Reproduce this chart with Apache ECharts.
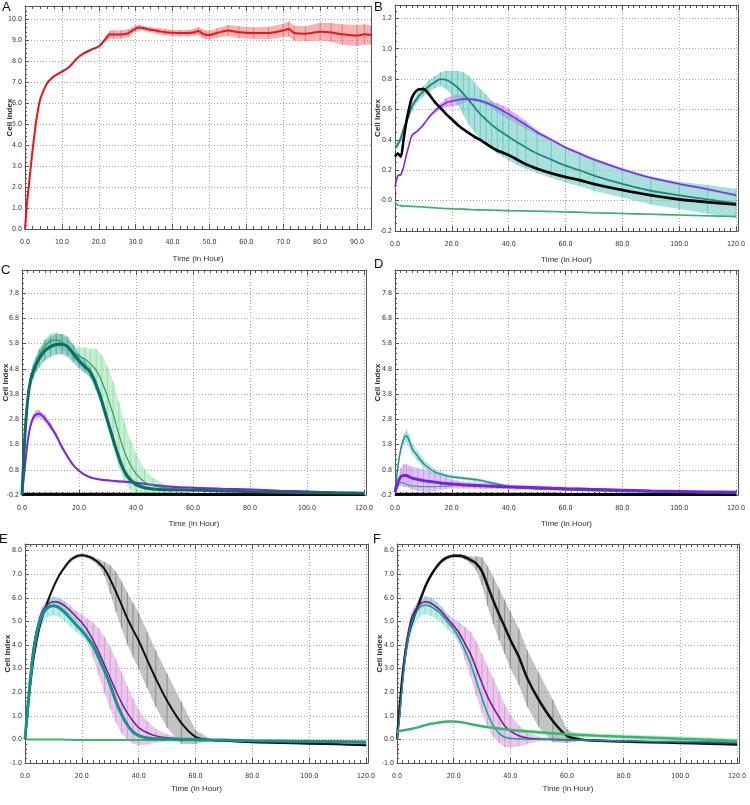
<!DOCTYPE html>
<html>
<head>
<meta charset="utf-8">
<script src="https://cdn.jsdelivr.net/npm/echarts/dist/echarts.min.js"></script>
<style>html,body{margin:0;padding:0;background:#fff}#c{width:750px;height:805px}</style>
</head>
<body>
<div id="c"></div>
<script>
// ---------- tick labels ----------
const xTicksA = [0,10,20,30,40,50,60,70,80,90];
const xLabelsA = ['0.0','10.0','20.0','30.0','40.0','50.0','60.0','70.0','80.0','90.0'];
const xTicks120 = [0,20,40,60,80,100,120];
const xLabels120 = ['0.0','20.0','40.0','60.0','80.0','100.0','120.0'];
const yTicksA = [0,1,2,3,4,5,6,7,8,9,10];
const yLabelsA = ['0.0','1.0','2.0','3.0','4.0','5.0','6.0','7.0','8.0','9.0','10.0'];
const yTicksB = [-0.2,0,0.2,0.4,0.6,0.8,1.0,1.2];
const yLabelsB = ['-0.2','-0.0','0.2','0.4','0.6','0.8','1.0','1.2'];
const yTicksCD = [-0.2,0.8,1.8,2.8,3.8,4.8,5.8,6.8,7.8];
const yLabelsCD = ['-0.2','0.8','1.8','2.8','3.8','4.8','5.8','6.8','7.8'];
const yTicksEF = [-1,0,1,2,3,4,5,6,7,8];
const yLabelsEF = ['-1.0','0.0','1.0','2.0','3.0','4.0','5.0','6.0','7.0','8.0'];

// ---------- panel A ----------
const A_t = [0,0.5,1,1.5,2,2.5,3,4,5,6,7,8,10,12,14,16,18,20,21,22,23,24,26,28,30,31,32,34,36,38,40,42,44,46,47,48,49,50,52,55,58,62,66,70,71.5,73,76,80,83,86,90,92,93.8];
const A_red = [0,1.15,2.0,2.85,3.7,4.4,5.1,6.1,6.6,6.95,7.15,7.3,7.5,7.72,8.12,8.38,8.55,8.7,8.88,9.1,9.28,9.27,9.27,9.34,9.55,9.6,9.58,9.5,9.44,9.38,9.35,9.34,9.34,9.38,9.44,9.33,9.26,9.25,9.34,9.46,9.38,9.34,9.34,9.46,9.53,9.34,9.31,9.4,9.37,9.28,9.22,9.28,9.25];
const A_red_sd = [0.03,0.03,0.03,0.03,0.03,0.03,0.03,0.04,0.04,0.04,0.04,0.04,0.05,0.05,0.05,0.05,0.05,0.05,0.08,0.12,0.18,0.2,0.2,0.18,0.15,0.12,0.1,0.12,0.14,0.15,0.15,0.15,0.15,0.16,0.18,0.2,0.2,0.2,0.22,0.26,0.28,0.28,0.3,0.32,0.36,0.35,0.35,0.42,0.45,0.48,0.5,0.48,0.45];

// ---------- shared time points for panels B-F ----------
const T = [0,1,2,3,4,5,6,8,10,12,14,16,18,20,22,24,26,28,30,32,34,36,38,40,43,46,50,55,60,65,70,80,90,100,110,120];

// ---------- panel B ----------
const B_black = [0.29,0.31,0.29,0.40,0.52,0.61,0.68,0.73,0.735,0.70,0.65,0.61,0.57,0.535,0.50,0.47,0.445,0.42,0.40,0.375,0.35,0.33,0.315,0.30,0.27,0.24,0.21,0.18,0.155,0.135,0.11,0.07,0.035,0.008,-0.01,-0.026];
const B_black_sd = [0.01,0.01,0.01,0.01,0.01,0.01,0.01,0.01,0.01,0.01,0.01,0.01,0.01,0.01,0.01,0.01,0.01,0.01,0.01,0.01,0.01,0.01,0.01,0.01,0.01,0.01,0.01,0.01,0.01,0.01,0.01,0.01,0.01,0.01,0.01,0.01];
const B_teal = [0.35,0.37,0.41,0.47,0.52,0.57,0.62,0.68,0.72,0.755,0.78,0.80,0.795,0.775,0.745,0.705,0.66,0.615,0.57,0.535,0.50,0.47,0.445,0.42,0.385,0.35,0.31,0.27,0.23,0.20,0.165,0.11,0.065,0.035,0.008,-0.017];
const B_teal_sd = [0.02,0.02,0.02,0.02,0.02,0.025,0.03,0.03,0.035,0.04,0.04,0.045,0.06,0.08,0.11,0.14,0.16,0.165,0.165,0.165,0.16,0.16,0.155,0.155,0.15,0.14,0.13,0.12,0.11,0.105,0.10,0.09,0.09,0.09,0.095,0.095];
const B_purple = [0.09,0.165,0.17,0.22,0.30,0.37,0.43,0.46,0.50,0.55,0.59,0.62,0.645,0.655,0.663,0.668,0.668,0.665,0.657,0.645,0.63,0.612,0.59,0.57,0.535,0.50,0.45,0.40,0.35,0.31,0.27,0.205,0.15,0.11,0.075,0.035];
const B_purple_sd = [0.008,0.008,0.008,0.008,0.008,0.008,0.008,0.008,0.01,0.01,0.015,0.02,0.03,0.035,0.035,0.025,0.012,0.01,0.012,0.015,0.02,0.03,0.035,0.035,0.03,0.025,0.015,0.01,0.01,0.01,0.01,0.01,0.01,0.01,0.01,0.01];
const B_green = [-0.01,-0.03,-0.033,-0.035,-0.036,-0.037,-0.038,-0.04,-0.042,-0.045,-0.047,-0.05,-0.052,-0.054,-0.055,-0.056,-0.058,-0.06,-0.061,-0.062,-0.063,-0.064,-0.065,-0.066,-0.067,-0.068,-0.07,-0.072,-0.075,-0.077,-0.08,-0.085,-0.09,-0.095,-0.1,-0.105];
const B_green_sd = [0.005,0.005,0.005,0.005,0.005,0.005,0.005,0.005,0.005,0.005,0.005,0.005,0.005,0.005,0.005,0.005,0.005,0.005,0.005,0.005,0.005,0.005,0.005,0.005,0.005,0.005,0.005,0.005,0.005,0.005,0.005,0.005,0.005,0.005,0.005,0.005];

// ---------- panel C ----------
const C_teal = [-0.2,2.1,3.58,4.35,4.7,4.98,5.2,5.52,5.68,5.77,5.78,5.68,5.4,5.12,4.9,4.67,4.17,3.52,2.75,2.0,1.28,0.72,0.4,0.22,0.09,0.04,0.01,0.0,-0.01,-0.02,-0.04,-0.07,-0.09,-0.11,-0.12,-0.13];
const C_teal_sd = [0.05,0.15,0.2,0.25,0.3,0.3,0.35,0.4,0.4,0.4,0.4,0.4,0.35,0.3,0.25,0.2,0.2,0.2,0.2,0.2,0.2,0.15,0.12,0.1,0.06,0.03,0.03,0.02,0.02,0.02,0.02,0.02,0.02,0.02,0.02,0.02];
const C_green = [-0.2,2.2,3.7,4.45,4.85,5.1,5.35,5.7,5.9,5.95,5.85,5.7,5.47,5.3,5.2,5.0,4.75,4.3,3.7,3.0,2.2,1.5,1.0,0.65,0.32,0.17,0.09,0.03,0.0,-0.02,-0.04,-0.07,-0.09,-0.11,-0.12,-0.13];
const C_green_sd = [0.05,0.1,0.15,0.2,0.2,0.22,0.25,0.28,0.3,0.3,0.3,0.3,0.3,0.35,0.45,0.6,0.85,1.05,1.2,1.3,1.3,1.2,1.0,0.8,0.5,0.3,0.15,0.06,0.03,0.02,0.02,0.02,0.02,0.02,0.02,0.02];
const C_purple = [-0.2,0.9,1.93,2.55,2.88,3.0,3.02,2.84,2.53,2.16,1.7,1.32,0.98,0.76,0.6,0.5,0.44,0.4,0.38,0.36,0.34,0.33,0.31,0.29,0.24,0.2,0.15,0.11,0.09,0.07,0.05,0.02,-0.03,-0.06,-0.1,-0.12];
const C_purple_sd = [0.05,0.1,0.1,0.1,0.12,0.15,0.15,0.15,0.12,0.1,0.08,0.06,0.04,0.04,0.04,0.04,0.04,0.04,0.04,0.04,0.04,0.04,0.04,0.04,0.04,0.04,0.04,0.04,0.04,0.04,0.04,0.04,0.04,0.04,0.03,0.03];
const C_black = [-0.17,-0.17,-0.17,-0.17,-0.17,-0.17,-0.17,-0.17,-0.17,-0.17,-0.17,-0.17,-0.17,-0.17,-0.17,-0.17,-0.17,-0.17,-0.17,-0.17,-0.17,-0.17,-0.17,-0.17,-0.17,-0.17,-0.17,-0.17,-0.18,-0.18,-0.18,-0.18,-0.18,-0.18,-0.18,-0.18];

// ---------- panel D ----------
const D_teal = [0.0,0.9,1.6,2.0,2.15,1.95,1.65,1.33,1.05,0.86,0.72,0.63,0.56,0.52,0.49,0.46,0.44,0.41,0.38,0.33,0.28,0.24,0.19,0.14,0.11,0.08,0.05,0.03,0.01,-0.01,-0.03,-0.06,-0.08,-0.1,-0.11,-0.12];
const D_teal_sd = [0.05,0.1,0.15,0.2,0.25,0.25,0.22,0.2,0.18,0.15,0.12,0.1,0.09,0.07,0.07,0.07,0.07,0.07,0.06,0.06,0.06,0.05,0.05,0.05,0.05,0.04,0.04,0.04,0.04,0.04,0.04,0.04,0.04,0.04,0.04,0.04];
const D_t2 = [0,1,2,3,4,5,6,8,10,12,14,16,18,20];
const D_teal2 = [-0.1,0.15,0.3,0.28,0.22,0.18,0.16,0.14,0.13,0.13,0.13,0.14,0.15,0.16];
const D_purple = [-0.1,0.3,0.52,0.57,0.57,0.52,0.47,0.42,0.37,0.34,0.31,0.28,0.26,0.24,0.22,0.2,0.19,0.18,0.17,0.16,0.15,0.14,0.13,0.12,0.11,0.1,0.09,0.07,0.05,0.035,0.02,-0.01,-0.04,-0.06,-0.08,-0.09];
const D_purple_sd = [0.05,0.2,0.35,0.45,0.45,0.45,0.45,0.45,0.45,0.42,0.35,0.28,0.22,0.18,0.15,0.14,0.13,0.12,0.12,0.12,0.11,0.11,0.1,0.1,0.1,0.09,0.09,0.08,0.08,0.06,0.05,0.04,0.04,0.04,0.04,0.04];
const D_black = [-0.17,-0.17,-0.17,-0.17,-0.17,-0.17,-0.17,-0.17,-0.17,-0.17,-0.17,-0.17,-0.17,-0.17,-0.17,-0.17,-0.17,-0.17,-0.17,-0.17,-0.17,-0.17,-0.17,-0.17,-0.17,-0.17,-0.17,-0.17,-0.18,-0.18,-0.18,-0.18,-0.18,-0.18,-0.18,-0.18];

// ---------- panel E ----------
const E_black = [0,1.25,2.45,3.4,4.1,4.7,5.15,5.85,6.45,6.95,7.3,7.6,7.75,7.8,7.76,7.65,7.48,7.22,6.78,6.25,5.7,5.13,4.64,4.18,3.37,2.58,1.64,0.7,0.11,-0.02,-0.06,-0.12,-0.15,-0.18,-0.21,-0.25];
const E_black_sd = [0.05,0.08,0.08,0.08,0.08,0.08,0.08,0.08,0.08,0.08,0.08,0.08,0.08,0.08,0.08,0.1,0.15,0.3,0.6,0.85,1.0,1.1,1.15,1.2,1.2,1.2,1.15,0.9,0.3,0.05,0.04,0.04,0.04,0.04,0.04,0.04];
const E_purple = [0,1.5,2.9,3.95,4.6,5.05,5.4,5.72,5.83,5.8,5.66,5.45,5.2,4.95,4.62,4.2,3.7,3.15,2.6,2.05,1.55,1.12,0.78,0.5,0.28,0.15,0.07,0.02,0.0,-0.02,-0.04,-0.07,-0.09,-0.1,-0.12,-0.14];
const E_purple_sd = [0.05,0.15,0.15,0.15,0.15,0.2,0.2,0.2,0.2,0.2,0.2,0.2,0.25,0.35,0.5,0.75,1.0,1.2,1.3,1.35,1.3,1.15,0.95,0.75,0.5,0.3,0.15,0.06,0.03,0.03,0.03,0.03,0.03,0.03,0.03,0.03];
const E_teal = [0,1.4,2.7,3.7,4.4,4.9,5.25,5.58,5.66,5.58,5.38,5.12,4.85,4.6,4.3,3.95,3.45,2.9,2.3,1.62,1.05,0.62,0.32,0.16,0.06,0.03,0.02,0.01,0.0,-0.02,-0.03,-0.06,-0.07,-0.08,-0.09,-0.11];
const E_teal_sd = [0.05,0.15,0.2,0.25,0.3,0.35,0.38,0.4,0.4,0.4,0.38,0.35,0.3,0.25,0.2,0.18,0.18,0.18,0.18,0.15,0.12,0.1,0.08,0.06,0.04,0.04,0.04,0.04,0.04,0.04,0.04,0.04,0.04,0.04,0.04,0.04];
const E_green = [0,0,0,0,0,0,0,0,0,0,-0.01,-0.02,-0.03,-0.03,-0.03,-0.03,-0.03,-0.03,-0.03,-0.03,-0.03,-0.03,-0.03,-0.03,-0.03,-0.03,-0.03,-0.035,-0.04,-0.045,-0.05,-0.07,-0.09,-0.1,-0.11,-0.12];
const E_green_sd = [0.02,0.02,0.02,0.02,0.02,0.02,0.02,0.02,0.02,0.02,0.02,0.02,0.02,0.02,0.02,0.02,0.02,0.02,0.02,0.03,0.03,0.03,0.03,0.03,0.03,0.03,0.03,0.04,0.04,0.04,0.04,0.05,0.05,0.06,0.06,0.06];

// ---------- panel F ----------
const F_black = [0,1.45,2.75,3.7,4.4,4.85,5.2,5.85,6.48,6.96,7.32,7.58,7.72,7.78,7.78,7.72,7.6,7.45,7.12,6.5,5.88,5.3,4.77,4.22,3.5,2.58,1.68,0.78,0.15,-0.01,-0.05,-0.09,-0.12,-0.15,-0.18,-0.22];
const F_black_sd = [0.05,0.08,0.08,0.08,0.08,0.08,0.08,0.08,0.08,0.08,0.08,0.08,0.08,0.08,0.08,0.1,0.15,0.3,0.6,0.85,1.0,1.1,1.15,1.2,1.2,1.2,1.15,0.9,0.3,0.05,0.04,0.04,0.04,0.04,0.04,0.04];
const F_purple = [0,1.2,2.6,3.85,4.55,5.1,5.38,5.72,5.83,5.77,5.6,5.38,5.08,4.82,4.5,4.06,3.6,3.0,2.38,1.8,1.35,0.95,0.58,0.36,0.15,0.06,0.02,0.0,-0.02,-0.03,-0.05,-0.08,-0.1,-0.12,-0.14,-0.16];
const F_purple_sd = [0.05,0.15,0.15,0.15,0.15,0.2,0.2,0.2,0.2,0.2,0.2,0.2,0.22,0.3,0.45,0.7,0.95,1.15,1.25,1.3,1.25,1.1,0.9,0.7,0.45,0.25,0.1,0.05,0.03,0.03,0.03,0.03,0.03,0.03,0.03,0.03];
const F_teal = [0,1.0,2.4,3.5,4.3,4.85,5.2,5.6,5.69,5.63,5.47,5.25,4.95,4.67,4.28,3.78,3.2,2.47,1.75,1.08,0.58,0.26,0.1,0.04,0.02,0.01,0.0,-0.01,-0.02,-0.03,-0.04,-0.06,-0.08,-0.09,-0.1,-0.12];
const F_teal_sd = [0.05,0.15,0.2,0.25,0.3,0.35,0.38,0.4,0.4,0.4,0.38,0.35,0.3,0.25,0.2,0.18,0.18,0.18,0.18,0.15,0.12,0.1,0.08,0.06,0.04,0.04,0.04,0.04,0.04,0.04,0.04,0.04,0.04,0.04,0.04,0.04];
const F_green = [0.3,0.36,0.38,0.4,0.42,0.44,0.47,0.53,0.6,0.66,0.7,0.74,0.76,0.76,0.74,0.7,0.65,0.6,0.56,0.52,0.49,0.46,0.43,0.4,0.37,0.34,0.3,0.26,0.22,0.19,0.16,0.11,0.07,0.03,-0.01,-0.07];
const F_green_sd = [0.02,0.03,0.03,0.03,0.03,0.03,0.03,0.03,0.03,0.03,0.03,0.03,0.03,0.04,0.04,0.04,0.05,0.05,0.05,0.06,0.06,0.06,0.07,0.07,0.07,0.08,0.08,0.08,0.09,0.09,0.09,0.1,0.1,0.1,0.1,0.1];

// ---------- layout / styling ----------
const NARROW = '"Liberation Sans Narrow","DejaVu Sans Condensed","Liberation Sans",sans-serif';
const SANS = '"Liberation Sans",Arial,sans-serif';

const panels = [
  {letter:'A', lx:8,  ly:9,   xg:26, yg:11, grid:{left:25,  top:6,   width:346, height:223}, xmax:93.8,  xint:10, xminor:5,  xT:xTicksA,  xL:xLabelsA,  ymin:0,    ymax:10.63, yint:1,   yminor:5, yT:yTicksA,  yL:yLabelsA},
  {letter:'B', lx:380,ly:9,   xg:25, yg:13, grid:{left:395, top:5,   width:343, height:226}, xmax:120.7, xint:20, xminor:10, xT:xTicks120,xL:xLabels120,ymin:-0.2, ymax:1.288, yint:0.2, yminor:4, yT:yTicksB,  yL:yLabelsB},
  {letter:'C', lx:7,  ly:272, xg:25, yg:12, grid:{left:22,  top:270, width:344, height:225}, xmax:120.7, xint:20, xminor:10, xT:xTicks120,xL:xLabels120,ymin:-0.2, ymax:8.72,  yint:1,   yminor:5, yT:yTicksCD, yL:yLabelsCD},
  {letter:'D', lx:380,ly:266, xg:25, yg:13, grid:{left:395, top:270, width:343, height:225}, xmax:120.7, xint:20, xminor:10, xT:xTicks120,xL:xLabels120,ymin:-0.2, ymax:8.72,  yint:1,   yminor:5, yT:yTicksCD, yL:yLabelsCD},
  {letter:'E', lx:5,  ly:541, xg:22, yg:13, grid:{left:25,  top:544, width:343, height:219}, xmax:120.7, xint:20, xminor:10, xT:xTicks120,xL:xLabels120,ymin:-1,   ymax:8.28,  yint:1,   yminor:5, yT:yTicksEF, yL:yLabelsEF},
  {letter:'F', lx:379,ly:541, xg:22, yg:13, grid:{left:397, top:544, width:342, height:219}, xmax:120.7, xint:20, xminor:10, xT:xTicks120,xL:xLabels120,ymin:-1,   ymax:8.28,  yint:1,   yminor:5, yT:yTicksEF, yL:yLabelsEF}
];

function fmt(ticks, labels) {
  return function (v) {
    const i = ticks.findIndex(t => Math.abs(t - v) < 1e-6);
    return i < 0 ? '' : labels[i];
  };
}

const grids = [], xAxes = [], yAxes = [], graphics = [];
const AX = '#555';
panels.forEach((p, g) => {
  grids.push(Object.assign({containLabel:false, outerBoundsMode:'none'}, p.grid));
  xAxes.push({
    type:'value', gridIndex:g, min:0, max:p.xmax, interval:p.xint, position:'bottom',
    name:'Time (in Hour)', nameLocation:'middle', nameGap:p.xg, nameMoveOverlap:false,
    nameTextStyle:{fontFamily:SANS, fontSize:8, color:'#333'},
    axisLine:{show:true, onZero:false, lineStyle:{color:AX, width:1}},
    axisTick:{show:true, inside:true, length:5, lineStyle:{color:AX}},
    minorTick:{show:true, splitNumber:p.xminor, length:3, lineStyle:{color:AX}},
    axisLabel:{fontFamily:NARROW, fontSize:7, color:'#333', margin:10, showMaxLabel:false, formatter:fmt(p.xT, p.xL)},
    splitLine:{show:true, lineStyle:{color:'#a8a8a8', type:[1,2], width:1}}
  });
  xAxes.push({
    type:'value', gridIndex:g, min:0, max:p.xmax, interval:p.xint, position:'top',
    axisLine:{show:true, onZero:false, lineStyle:{color:AX, width:1}},
    axisTick:{show:true, inside:true, length:5, lineStyle:{color:AX}},
    minorTick:{show:true, splitNumber:p.xminor, length:3, lineStyle:{color:AX}},
    axisLabel:{show:false}, splitLine:{show:false}
  });
  yAxes.push({
    type:'value', gridIndex:g, min:p.ymin, max:p.ymax, interval:p.yint, position:'left',
    name:'Cell Index', nameLocation:'middle', nameGap:p.yg, nameMoveOverlap:false,
    nameTextStyle:{fontFamily:SANS, fontSize:8, fontWeight:'bold', color:'#333'},
    axisLine:{show:true, onZero:false, lineStyle:{color:AX, width:1}},
    axisTick:{show:true, inside:true, length:4, lineStyle:{color:AX}},
    minorTick:{show:true, splitNumber:p.yminor, length:2, lineStyle:{color:AX}},
    axisLabel:{fontFamily:NARROW, fontSize:7, color:'#333', margin:3, showMaxLabel:false, formatter:fmt(p.yT, p.yL)},
    splitLine:{show:true, lineStyle:{color:'#a8a8a8', type:[1,2], width:1}}
  });
  yAxes.push({
    type:'value', gridIndex:g, min:p.ymin, max:p.ymax, position:'right',
    axisLine:{show:true, onZero:false, lineStyle:{color:AX, width:1}},
    axisTick:{show:false}, axisLabel:{show:false}, splitLine:{show:false}
  });
  graphics.push({type:'text', left:p.lx - 6, top:p.ly - 8, style:{text:p.letter, font:'13px ' + SANS, fill:'#111'}});
});

// series definitions: [panel, times, values, sd, lineColor, bandColor, lineWidth, bandOpacity]
const defs = [
  [0, A_t, A_red, A_red_sd, '#e8141e', '#f06a6a', 2, 0.5],

  [1, T, B_green, B_green_sd, '#34b46c', '#7fd6a0', 1.6, 0.5],
  [1, T, B_purple, B_purple_sd, '#7a30e4', '#cc80e6', 1.6, 0.6],
  [1, T, B_teal, B_teal_sd, '#1f8782', '#64c7bf', 1.8, 0.55],
  [1, T, B_black, B_black_sd, '#000000', '#666666', 2.6, 0.4],

  [2, T, C_black, null, '#000000', null, 3, 0],
  [2, T, C_purple, C_purple_sd, '#7b25e0', '#bb88ee', 2, 0.6],
  [2, T, C_green, C_green_sd, '#2f9c5c', '#8fdba6', 1.2, 0.5],
  [2, T, C_teal, C_teal_sd, '#0c6c67', '#40a79e', 3, 0.5],

  [3, T, D_black, null, '#000000', null, 3, 0],
  [3, T, D_teal, D_teal_sd, '#27908a', '#8cd6cd', 1.5, 0.6],
  [3, D_t2, D_teal2, null, '#3a9f98', null, 1.2, 0],
  [3, T, D_purple, D_purple_sd, '#7423de', '#c793ee', 3, 0.55],

  [4, T, E_green, E_green_sd, '#3bb56c', '#8fe0a8', 2, 0.5],
  [4, T, E_black, E_black_sd, '#111111', '#7a7a7a', 2, 0.45],
  [4, T, E_purple, E_purple_sd, '#6c2288', '#da8fda', 1.5, 0.5],
  [4, T, E_teal, E_teal_sd, '#12938b', '#7fd8d1', 3, 0.5],

  [5, T, F_black, F_black_sd, '#111111', '#7a7a7a', 2.5, 0.45],
  [5, T, F_purple, F_purple_sd, '#6c2288', '#da8fda', 1.6, 0.5],
  [5, T, F_teal, F_teal_sd, '#14958d', '#7fd8d1', 1.3, 0.5],
  [5, T, F_green, F_green_sd, '#36b86c', '#8fe0a8', 2.5, 0.5]
];

const series = [];
defs.forEach((d, k) => {
  const [g, tt, vv, sd, col, band, w, op] = d;
  if (sd) {
    series.push({
      type:'custom', xAxisIndex:2*g, yAxisIndex:2*g, silent:true, z:1, clip:true,
      encode:{x:0, y:[1,2]},
      data: tt.map((t, i) => [t, vv[i] - sd[i], vv[i] + sd[i]]),
      renderItem: function (params, api) {
        const i = params.dataIndex;
        const children = [];
        if (i === 0) {
          const up = [], lo = [];
          for (let j = 0; j < tt.length; j++) {
            up.push(api.coord([tt[j], vv[j] + sd[j]]));
            lo.push(api.coord([tt[j], vv[j] - sd[j]]));
          }
          children.push({type:'polygon', shape:{points: up.concat(lo.reverse())}, style:{fill: band, opacity: op}});
        }
        const a = api.coord([api.value(0), api.value(1)]);
        const b = api.coord([api.value(0), api.value(2)]);
        children.push({type:'line', shape:{x1:a[0], y1:a[1], x2:b[0], y2:b[1]}, style:{stroke: band, lineWidth: 1, opacity: Math.min(1, op + 0.3)}});
        return {type:'group', children};
      }
    });
  }
  series.push({
    type:'line', xAxisIndex:2*g, yAxisIndex:2*g, z:3 + k * 0.01, silent:true,
    data: tt.map((t, i) => [t, vv[i]]),
    showSymbol:false, smooth:0.3, clip:true,
    lineStyle:{color:col, width:w}, itemStyle:{color:col}
  });
});

const chart = echarts.init(document.getElementById('c'), null, {renderer:'canvas'});
chart.setOption({
  animation:false, backgroundColor:'#fff',
  grid:grids, xAxis:xAxes, yAxis:yAxes, series:series, graphic:graphics
});
</script>
</body>
</html>
